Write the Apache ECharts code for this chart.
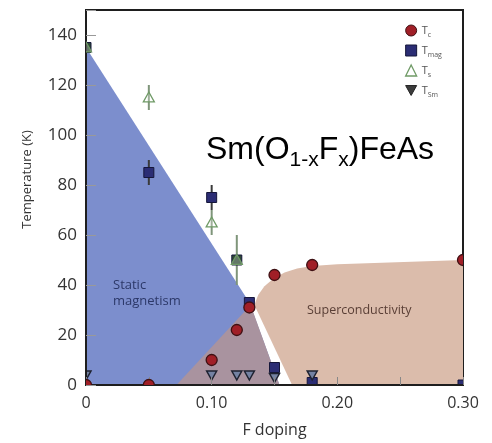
<!DOCTYPE html>
<html>
<head>
<meta charset="utf-8">
<script src="https://cdn.jsdelivr.net/npm/echarts@6/dist/echarts.min.js"></script>
<style>
  html, body { margin: 0; padding: 0; background: #fff; }
  #chart { width: 492px; height: 443px; }
</style>
</head>
<body>
<div id="chart"></div>
<script>
// Phase diagram of Sm(O1-xFx)FeAs: transition temperatures vs fluorine doping

// Transition temperatures [F doping, T (K)]
const tcData   = [[0, 0], [0.05, 0], [0.10, 10], [0.12, 22], [0.13, 31], [0.15, 44], [0.18, 48], [0.30, 50]];
const tmagData = [[0, 135], [0.05, 85], [0.10, 75], [0.12, 50], [0.13, 33], [0.15, 7], [0.18, 1], [0.30, 0]];
const tsData   = [[0, 135], [0.05, 115], [0.10, 65], [0.12, 50]];
const tsmData  = [[0, 4], [0.10, 4], [0.12, 4], [0.13, 4], [0.15, 3], [0.18, 4]];

// Error bars [F doping, low, high]
const tmagErr = [[0.05, 80, 90], [0.10, 70, 80]];
const tsErr   = [[0.05, 110, 120], [0.10, 60, 70], [0.12, 40, 60]];

// Phase regions, as boundaries in (doping, temperature)
const magnetismRegion = [[0, 0], [0, 135], [0.13, 33], [0.154, 0]];
const overlapRegion   = [[0.072, 0], [0.131, 32], [0.154, 0]];
const scRegion = [[0.164, 0], [0.134, 32], [0.137, 36], [0.142, 39.5], [0.149, 42.5], [0.158, 45],
                  [0.168, 46.6], [0.18, 47.6], [0.20, 48.3], [0.30, 50], [0.30, 0]];

const xTickLabels = {0: '0', 2: '0.10', 4: '0.20', 6: '0.30'};

const regions = [
  { pts: magnetismRegion, color: '#7c8ecd' },
  { pts: scRegion, color: '#dbbcab' },
  { pts: overlapRegion, color: '#a9939f' }
];

const chart = echarts.init(document.getElementById('chart'), null, { renderer: 'canvas' });

const FONT = 'Open Sans';

// Vertical error bars, clipped to the plot frame
function errorSeries(name, data, color) {
  return {
    type: 'custom',
    name: name + '-err',
    z: 3,
    silent: true,
    clip: true,
    data: data,
    renderItem: function (params, api) {
      const a = api.coord([api.value(0), api.value(1)]);
      const b = api.coord([api.value(0), api.value(2)]);
      return {
        type: 'line',
        shape: { x1: a[0], y1: a[1], x2: b[0], y2: b[1] },
        style: { stroke: color, lineWidth: 2 }
      };
    }
  };
}

// Marker shapes centred on a pixel position
function markerShape(kind, p, size) {
  const h = size / 2;
  if (kind === 'circle') return { type: 'circle', shape: { cx: p[0], cy: p[1], r: h } };
  if (kind === 'rect') return { type: 'rect', shape: { x: p[0] - h, y: p[1] - h, width: size, height: size } };
  if (kind === 'up') {
    return { type: 'polygon', shape: { points: [[p[0], p[1] - h], [p[0] + h, p[1] + h * 0.8], [p[0] - h, p[1] + h * 0.8]] } };
  }
  return { type: 'polygon', shape: { points: [[p[0], p[1] + h], [p[0] + h, p[1] - h * 0.8], [p[0] - h, p[1] - h * 0.8]] } };
}

// Point markers drawn through the axes; symbols on the frame get cut by it
function markerSeries(name, data, kind, size, style, z, overrides) {
  return {
    type: 'custom',
    name: name,
    z: z,
    clip: true,
    data: data,
    itemStyle: { color: style.fill },
    renderItem: function (params, api) {
      const x = api.value(0), y = api.value(1);
      const p = api.coord([x, y]);
      const el = markerShape(kind, p, size);
      const o = overrides ? overrides(x, y) : null;
      el.style = {
        fill: (o && o.fill) || style.fill,
        stroke: style.stroke,
        lineWidth: style.lineWidth
      };
      return el;
    }
  };
}

const option = {
  animation: false,
  grid: {
    left: 86, right: 29, top: 10, bottom: 58,
    show: true, borderColor: '#1e1e1e', borderWidth: 2, backgroundColor: 'transparent'
  },
  xAxis: {
    type: 'value', min: 0, max: 0.30, interval: 0.05, z: 5,
    name: 'F doping', nameLocation: 'middle', nameGap: 37,
    nameTextStyle: { fontFamily: FONT, fontSize: 16, color: '#333' },
    axisLine: { show: true, lineStyle: { color: '#1e1e1e', width: 2 } },
    axisTick: { inside: true, length: 8, lineStyle: { color: '#888', width: 1 } },
    splitLine: { show: false },
    axisLabel: {
      fontFamily: FONT, fontSize: 16, color: '#333', margin: 10,
      formatter: function (v) {
        const k = Math.round(v * 20);
        return xTickLabels[k] !== undefined ? xTickLabels[k] : '';
      }
    }
  },
  yAxis: {
    type: 'value', min: 0, max: 150, interval: 20, z: 5,
    name: 'Temperature (K)', nameLocation: 'middle', nameGap: 52,
    nameTextStyle: { fontFamily: FONT, fontSize: 13, color: '#333', padding: [0, 0, 0, 36] },
    axisLine: { show: true, lineStyle: { color: '#1e1e1e', width: 2 } },
    axisTick: { inside: true, length: 10, lineStyle: { color: '#999', width: 1 } },
    splitLine: { show: false },
    axisLabel: {
      fontFamily: FONT, fontSize: 17, color: '#333', margin: 9,
      formatter: function (v) { return v > 140 ? '' : String(v); }
    }
  },
  legend: {
    orient: 'vertical', left: 400, top: 18, itemGap: 5,
    itemWidth: 11, itemHeight: 11,
    data: [
      { name: 'Tc', icon: 'circle', itemStyle: { color: '#a01f27', borderColor: '#3e1013', borderWidth: 1 } },
      { name: 'Tmag', icon: 'rect', itemStyle: { color: '#2b2d74', borderColor: '#15163a', borderWidth: 1 } },
      { name: 'Ts', icon: 'triangle', itemStyle: { color: '#ffffff', borderColor: '#6f9a66', borderWidth: 1.3 } },
      { name: 'TSm', icon: 'path://M0,0 L10,0 L5,9 Z', itemStyle: { color: '#3c3c3c', borderColor: '#222', borderWidth: 1 } }
    ],
    formatter: function (name) { return '{t|T}{s|' + name.slice(1) + '}'; },
    textStyle: {
      color: '#555', fontFamily: FONT,
      rich: {
        t: { fontSize: 11, lineHeight: 14, color: '#555' },
        s: { fontSize: 7, lineHeight: 8, padding: [8, 0, 0, 0], color: '#555' }
      }
    }
  },
  graphic: [
    {
      type: 'text', left: 206, top: 130, z: 10,
      style: {
        text: '{m|Sm(O}{s|1-x}{m|F}{s|x}{m|)FeAs}',
        fill: '#000',
        rich: {
          m: { fontFamily: 'Liberation Sans', fontSize: 32, lineHeight: 36, fill: '#000' },
          s: { fontFamily: 'Liberation Sans', fontSize: 21, lineHeight: 22, padding: [20, 0, 0, 0], fill: '#000' }
        }
      }
    },
    {
      type: 'text', left: 113, top: 277, z: 10,
      style: { text: 'Static\nmagnetism', font: '13px "' + FONT + '"', fill: '#2c3868', lineHeight: 16 }
    },
    {
      type: 'text', left: 307, top: 304, z: 10,
      style: { text: 'Superconductivity', font: '12.5px "' + FONT + '"', fill: '#5a3f36' }
    }
  ],
  series: [
    {
      type: 'custom',
      name: 'regions',
      z: 1,
      silent: true,
      clip: true,
      data: regions.map(function (r, i) { return [i]; }),
      renderItem: function (params, api) {
        const r = regions[params.dataIndex];
        const points = r.pts.map(function (p) { return api.coord(p); });
        return {
          type: 'polygon',
          shape: { points: points },
          style: { fill: r.color, stroke: null }
        };
      }
    },
    errorSeries('Tmag', tmagErr, '#3a3a3a'),
    errorSeries('Ts', tsErr, '#7f957a'),
    markerSeries('Tmag', tmagData, 'rect', 10,
      { fill: '#2b2d74', stroke: '#15163a', lineWidth: 1 }, 4,
      function (x, y) { return (x === 0.12 || x === 0) ? { fill: '#2f4a36' } : null; }),
    markerSeries('TSm', tsmData, 'down', 10,
      { fill: '#7482a2', stroke: '#1e2230', lineWidth: 1.5 }, 5),
    markerSeries('Ts', tsData, 'up', 11,
      { fill: 'rgba(255,255,255,0.25)', stroke: '#6f9a66', lineWidth: 1.3 }, 6),
    markerSeries('Tc', tcData, 'circle', 11,
      { fill: '#a01f27', stroke: '#3e1013', lineWidth: 1.3 }, 7)
  ]
};

chart.setOption(option);
</script>
</body>
</html>
